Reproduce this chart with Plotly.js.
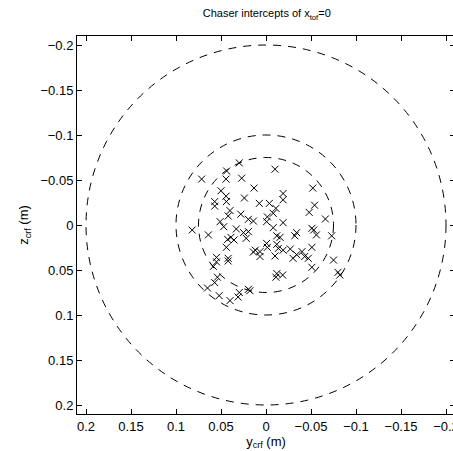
<!DOCTYPE html>
<html>
<head>
<meta charset="utf-8">
<script src="https://cdn.plot.ly/plotly-3.0.1.min.js"></script>
<style>html,body{margin:0;padding:0;overflow:hidden;background:#fff;}#chart{width:456px;height:451px;}</style>
</head>
<body>
<div id="chart"></div>
<script>
// Intercept positions (y_crf, z_crf) in metres
const yCrf = [0.0297,0.0437,-0.010,0.0715,0.0444,0.027,0.0133,0.050,-0.052,0.0444,
  0.024,-0.019,-0.019,0.057,0.057,0.044,0.0074,-0.0037,-0.054,-0.011,
  0.040,0.042,-0.048,-0.008,0.028,0.0196,0.014,-0.0015,-0.0007,0.051,
  -0.066,-0.019,0.047,0.082,0.064,0.033,-0.008,-0.051,-0.053,0.025,
  0.0196,-0.034,-0.032,-0.056,-0.012,-0.0156,-0.073,0.039,0.0426,0.0356,
  0.022,-0.0007,-0.012,0.044,-0.0015,-0.051,-0.0137,-0.019,-0.027,0.0119,
  0.014,0.0067,-0.040,-0.034,-0.043,-0.047,-0.030,-0.010,0.0067,0.055,
  0.042,0.042,0.055,0.0585,-0.075,-0.051,-0.012,-0.011,-0.0185,-0.080,
  -0.082,0.054,0.057,0.065,0.052,0.040,0.0297,0.031,0.0196,0.0178];
const zCrf = [-0.069,-0.060,-0.062,-0.051,-0.051,-0.052,-0.041,-0.038,-0.041,-0.032,
  -0.030,-0.035,-0.028,-0.026,-0.021,-0.026,-0.024,-0.024,-0.022,-0.0185,
  -0.016,-0.010,-0.014,-0.013,-0.012,-0.0063,-0.0044,-0.009,-0.0037,-0.0037,
  -0.0067,-0.0026,0.0019,0.0056,0.011,0.0044,0.003,0.0037,0.0056,0.0085,
  0.0074,0.0085,0.012,0.011,0.012,0.0137,0.012,0.0137,0.016,0.0167,
  0.0148,0.0204,0.0215,0.0248,0.0248,0.0248,0.026,0.028,0.0267,0.028,
  0.030,0.0296,0.0296,0.033,0.035,0.037,0.037,0.0344,0.035,0.036,
  0.037,0.040,0.041,0.046,0.039,0.047,0.054,0.058,0.0556,0.0526,
  0.0556,0.058,0.064,0.070,0.0785,0.084,0.075,0.080,0.0715,0.073];
// Radii of the dashed reference circles (m)
const radii = [0.2, 0.1, 0.075];
// Tick values and labels
const tickVals = [-0.2,-0.15,-0.1,-0.05,0,0.05,0.1,0.15,0.2];
const tickText = ['\u22120.2','\u22120.15','\u22120.1','\u22120.05','0','0.05','0.1','0.15','0.2'];

const fam = 'Liberation Sans, Arial, sans-serif';
const titleFont = {family: fam, size: 11, color: '#000'};
const tickFont = {family: fam, size: 13, color: '#000'};
const labelFont = {family: fam, size: 13, color: '#000'};

const shapes = radii.map(r => ({
  type: 'circle', xref: 'x', yref: 'y',
  x0: -r, x1: r, y0: -r, y1: r,
  line: {color: '#000', width: 1, dash: '8px,7px'}
}));

const trace = {
  x: yCrf, y: zCrf, type: 'scatter', mode: 'markers',
  marker: {symbol: 'x-thin', size: 7, line: {color: '#000', width: 1}, color: '#000'},
  hoverinfo: 'none'
};

const axisCommon = {
  tickvals: tickVals, ticktext: tickText,
  ticks: 'inside', ticklen: 5, tickcolor: '#000', tickwidth: 1,
  showline: true, linecolor: '#000', linewidth: 1, mirror: 'ticks',
  showgrid: false, zeroline: false, tickfont: tickFont,
  ticklabeloverflow: 'allow'
};

const layout = {
  width: 456, height: 451,
  margin: {l: 77, r: 1, t: 36, b: 37},
  paper_bgcolor: '#fff', plot_bgcolor: '#fff',
  font: tickFont,
  showlegend: false,
  title: {text: 'Chaser intercepts of x<sub>tof</sub>=0', font: titleFont, x: 0.585, xanchor: 'center', y: 0.97, yanchor: 'middle'},
  xaxis: Object.assign({}, axisCommon, {range: [0.21, -0.21], title: {text: 'y<sub>crf</sub> (m)', font: labelFont, standoff: 0}}),
  yaxis: Object.assign({}, axisCommon, {range: [0.21, -0.21], title: {text: 'z<sub>crf</sub> (m)', font: labelFont, standoff: 8}}),
  shapes: shapes
};

Plotly.newPlot('chart', [trace], layout, {staticPlot: true, displayModeBar: false});
</script>
</body>
</html>
